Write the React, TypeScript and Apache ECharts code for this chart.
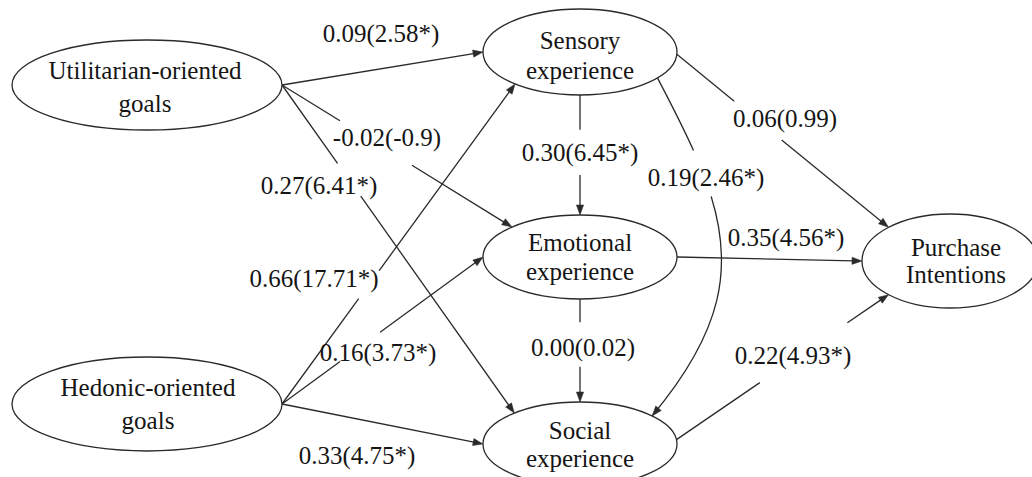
import React, { useEffect, useRef } from "react";
import * as echarts from "echarts";

// ---- data ----
const nodeNames = [
  "Utilitarian-oriented\ngoals",
  "Hedonic-oriented\ngoals",
  "Sensory\nexperience",
  "Emotional\nexperience",
  "Social\nexperience",
  "Purchase\nIntentions",
];
const pathFrom = [0, 0, 0, 1, 1, 1, 2, 3, 2, 2, 3, 4];
const pathTo = [2, 3, 4, 2, 3, 4, 3, 4, 4, 5, 5, 5];
const coefficients = ["0.09", "-0.02", "0.27", "0.66", "0.16", "0.33", "0.30", "0.00", "0.19", "0.06", "0.35", "0.22"];
const tValues = ["2.58*", "-0.9", "6.41*", "17.71*", "3.73*", "4.75*", "6.45*", "0.02", "2.46*", "0.99", "4.56*", "4.93*"];

// ---- layout (positions / sizes) ----
const nodeCenters = [[147, 85], [147, 404], [580, 52], [580, 257], [580, 444], [950, 261]];
const nodeRadii = [[135, 45], [135, 47], [97, 43], [97, 42], [97, 42], [88, 47]];
const nodeTextOffset = [[-2, 2], [1, 0], [0, 3], [0, 0], [0, 0], [6, 0]];
const nodeLineHeight = [33, 33, 30, 29, 28, 27];
const edgeStartAngle = [0, 0, 0, 0, 0, 0, 90, 90, 37, 3, 0, 354];
const edgeEndAngle = [180, 225.5, 227.4, 132, 180, 180, 270, 270, 318, 225.7, 180, 134.3];
const edgeGap: (number[] | null)[] = [
  null, [0.252, 0.565], [0.239, 0.339], [0.329, 0.417], [0.289, 0.488], null,
  [0.29, 0.667], [0.225, 0.657], [0.2, 0.34], [0.271, 0.495], null, [0.393, 0.806],
];
const edgeCurveCtrl: (number[][] | null)[] = [null, null, null, null, null, null, null, null, [[68, 130], [109, -130]], null, null, null];
const labelPos = [[381, 33], [387, 137], [319, 185], [314, 278], [378, 352], [357, 455], [580, 152], [583, 347], [706, 177], [785, 118], [786, 237], [793, 355]];

const INK = "#2a2a2a";
const TEXT = "#151515";
const FONT = "25px Liberation Serif";
const ARROW_L = 10;
const ARROW_W = 3.6;

type P = number[];
const lerp = (p: P, q: P, t: number): P => [p[0] + (q[0] - p[0]) * t, p[1] + (q[1] - p[1]) * t];

function ellipsePoint(i: number, deg: number): P {
  const [cx, cy] = nodeCenters[i];
  const [rx, ry] = nodeRadii[i];
  const a = (deg * Math.PI) / 180;
  return [cx + rx * Math.cos(a), cy + ry * Math.sin(a)];
}

function casteljau(c: P[], t: number): [P[], P[]] {
  const a = lerp(c[0], c[1], t), b = lerp(c[1], c[2], t), d = lerp(c[2], c[3], t);
  const e = lerp(a, b, t), f = lerp(b, d, t);
  const g = lerp(e, f, t);
  return [[c[0], a, e, g], [g, f, d, c[3]]];
}
function subCubic(c: P[], a: number, b: number): P[] {
  const left = casteljau(c, b)[0];
  return casteljau(left, b === 0 ? 0 : a / b)[1];
}

function arrowHead(tip: P, from: P) {
  const dx = tip[0] - from[0], dy = tip[1] - from[1];
  const len = Math.hypot(dx, dy) || 1;
  const ux = dx / len, uy = dy / len;
  const bx = tip[0] - ux * ARROW_L, by = tip[1] - uy * ARROW_L;
  return {
    type: "polygon",
    shape: { points: [tip, [bx - uy * ARROW_W, by + ux * ARROW_W], [bx + uy * ARROW_W, by - ux * ARROW_W]] },
    style: { fill: INK, stroke: INK, lineWidth: 0.5 },
    z: 5,
  };
}

function lineEl(a: P, b: P) {
  return {
    type: "line",
    shape: { x1: a[0], y1: a[1], x2: b[0], y2: b[1] },
    style: { stroke: INK, lineWidth: 1.3 },
    z: 2,
  };
}
function curveEl(c: P[]) {
  return {
    type: "bezierCurve",
    shape: { x1: c[0][0], y1: c[0][1], cpx1: c[1][0], cpy1: c[1][1], cpx2: c[2][0], cpy2: c[2][1], x2: c[3][0], y2: c[3][1] },
    style: { stroke: INK, lineWidth: 1.3, fill: "none" },
    z: 2,
  };
}

function buildGraphic() {
  const els: any[] = [];
  nodeNames.forEach((name, i) => {
    const [cx, cy] = nodeCenters[i];
    const [rx, ry] = nodeRadii[i];
    els.push({
      type: "ellipse",
      shape: { cx, cy, rx, ry },
      style: { fill: "#ffffff", stroke: INK, lineWidth: 1.3 },
      z: 3,
    });
    els.push({
      type: "text",
      x: cx + nodeTextOffset[i][0],
      y: cy + nodeTextOffset[i][1],
      style: {
        text: name,
        font: FONT,
        fill: TEXT,
        align: "center",
        verticalAlign: "middle",
        lineHeight: nodeLineHeight[i],
      },
      z: 6,
    });
  });
  pathFrom.forEach((from, k) => {
    const to = pathTo[k];
    const s = ellipsePoint(from, edgeStartAngle[k]);
    const e = ellipsePoint(to, edgeEndAngle[k]);
    const gap = edgeGap[k];
    const ctrl = edgeCurveCtrl[k];
    if (ctrl) {
      const c: P[] = [s, [s[0] + ctrl[0][0], s[1] + ctrl[0][1]], [e[0] + ctrl[1][0], e[1] + ctrl[1][1]], e];
      if (gap) {
        els.push(curveEl(subCubic(c, 0, gap[0])));
        els.push(curveEl(subCubic(c, gap[1], 1)));
      } else {
        els.push(curveEl(c));
      }
      els.push(arrowHead(e, c[2]));
    } else {
      const len = Math.hypot(e[0] - s[0], e[1] - s[1]);
      const endT = 1 - (ARROW_L * 0.8) / len;
      if (gap) {
        els.push(lineEl(s, lerp(s, e, gap[0])));
        els.push(lineEl(lerp(s, e, gap[1]), lerp(s, e, endT)));
      } else {
        els.push(lineEl(s, lerp(s, e, endT)));
      }
      els.push(arrowHead(e, s));
    }
    els.push({
      type: "text",
      x: labelPos[k][0],
      y: labelPos[k][1],
      style: {
        text: `${coefficients[k]}(${tValues[k]})`,
        font: FONT,
        fill: TEXT,
        align: "center",
        verticalAlign: "middle",
      },
      z: 6,
    });
  });
  return els;
}

export default function App() {
  const ref = useRef<HTMLDivElement>(null);
  useEffect(() => {
    if (!ref.current) return;
    const chart = echarts.init(ref.current, undefined, { renderer: "svg" });
    chart.setOption({
      animation: false,
      backgroundColor: "#ffffff",
      graphic: { elements: buildGraphic() },
    });
    return () => chart.dispose();
  }, []);
  return (
    <div
      ref={ref}
      style={{ position: "absolute", left: 0, top: 0, width: 1032, height: 477, background: "#fff" }}
    />
  );
}
